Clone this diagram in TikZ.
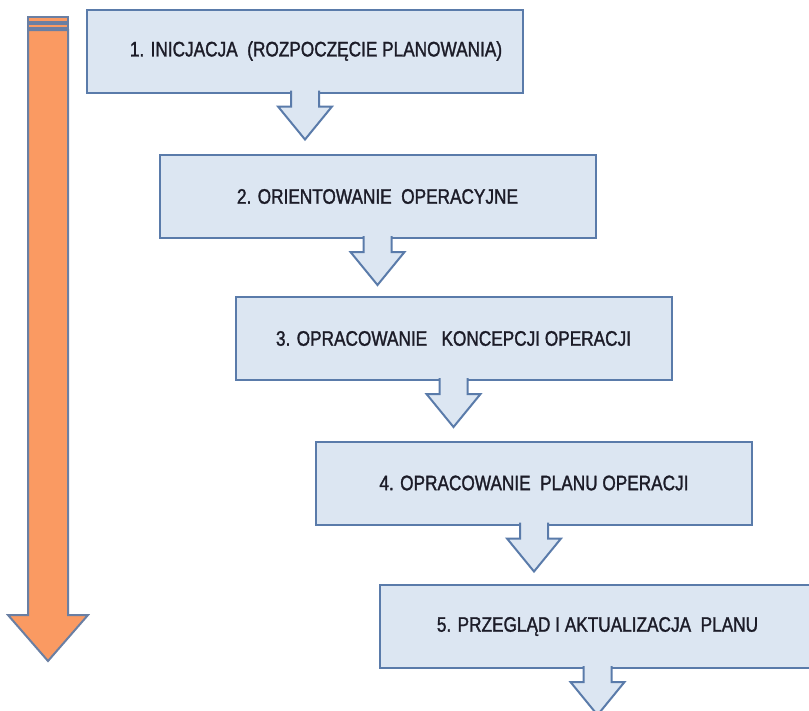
\documentclass[tikz,border=0pt]{standalone}
\usepackage{fontspec}
\setmainfont{Liberation Sans}[FakeStretch=0.82,FakeBold=1.4]
\definecolor{boxfill}{HTML}{DCE6F2}
\definecolor{boxline}{HTML}{5A7BAA}
\definecolor{orangefill}{HTML}{FA9A62}
\definecolor{orangeline}{HTML}{6A7FA3}
\definecolor{textcol}{HTML}{1C1C28}
% block arrow hanging below a step box: fill closes the open path, the stroke leaves the top open
\newcommand\flowarrow[1]{%
  \filldraw[blockarrow] (#1.south) ++(-14,-3) -- ++(0,16) -- ++(-13,0) -- ++(27,33)
    -- ++(27,-33) -- ++(-13,0) -- ++(0,-16);
}
\begin{document}
\begin{tikzpicture}[x=1pt,y=-1pt,
  stepbox/.style={draw=boxline, line width=2pt, fill=boxfill,
    minimum width=436pt, minimum height=83pt, inner sep=0pt,
    font=\fontsize{21}{24}\selectfont, text=textcol},
  blockarrow/.style={fill=boxfill, draw=boxline, line width=2pt, line join=miter},
  timearrow/.style={fill=orangefill, draw=orangeline, line width=2pt, line join=miter}]
\useasboundingbox (0,0) rectangle (809,710);

% time arrow on the left, striped tail at the top
\draw[timearrow] (28,17) rectangle (68,21.5);
\draw[timearrow] (28,23.5) rectangle (68,27.5);
\draw[timearrow] (28,30) -- (68,30) -- (68,615) -- (88,615) -- (48,661)
  -- (8,615) -- (28,615) -- cycle;

% planning steps
\node[stepbox] (b1) at (305,51)    {\hspace*{22pt}1. INICJACJA\ \ (ROZPOCZĘCIE PLANOWANIA)};
\node[stepbox] (b2) at (377.5,196.5) {2. ORIENTOWANIE\ \ OPERACYJNE};
\node[stepbox] (b3) at (453.5,338.5) {3. OPRACOWANIE\ \ \ KONCEPCJI OPERACJI};
\node[stepbox] (b4) at (534,483)   {4. OPRACOWANIE\ \ PLANU OPERACJI};
\node[stepbox] (b5) at (597.5,626.5) {5. PRZEGLĄD I AKTUALIZACJA\ \ PLANU};

% arrows between the steps
\flowarrow{b1}
\flowarrow{b2}
\flowarrow{b3}
\flowarrow{b4}
\flowarrow{b5}
\end{tikzpicture}
\end{document}
